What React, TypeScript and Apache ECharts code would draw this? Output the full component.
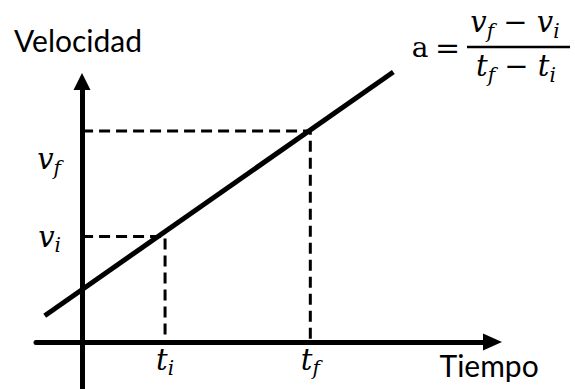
import React, { useEffect, useRef } from 'react';
import * as echarts from 'echarts';

// Conceptual velocity-time data (arbitrary units)
const linePoints: number[][] = [[-0.9, 0.5], [7.5, 5.12]];
const dashedInitial: number[][] = [[0, 2], [2, 2], [2, 0]];
const dashedFinal: number[][] = [[0, 4], [5.5, 4], [5.5, 0]];
const xTickValues = [2, 5.5];
const xTickMain = ['t', 't'];
const xTickSub = ['i', 'f'];
const yTickValues = [2, 4];
const yTickMain = ['v', 'v'];
const yTickSub = ['i', 'f'];
const xRange = [-1.11, 9.89];
const yRange = [-0.89, 4.94];
const xName = 'Tiempo';
const yName = 'Velocidad';

const MATH = 'DejaVu Serif';
const SANS = 'Lato';

const mathRich = (subPad: number) => ({
  m: { fontFamily: MATH, fontStyle: 'italic', fontSize: 29, color: '#000' },
  s: { fontFamily: MATH, fontStyle: 'italic', fontSize: 20, color: '#000', padding: [subPad, 0, 0, 0] },
  o: { fontFamily: MATH, fontSize: 29, color: '#000' },
  M: { fontFamily: MATH, fontStyle: 'italic', fontSize: 29, color: '#000', padding: [56, 0, 0, 0] },
  S: { fontFamily: MATH, fontStyle: 'italic', fontSize: 20, color: '#000', padding: [56 + subPad, 0, 0, 0] },
});

export default function App() {
  const ref = useRef<HTMLDivElement>(null);
  useEffect(() => {
    if (!ref.current) return;
    const chart = echarts.init(ref.current, undefined, { renderer: 'svg' });
    const rich = mathRich(17);
    chart.setOption({
      animation: false,
      backgroundColor: '#fff',
      grid: { left: 36, right: 82.5, top: 81.5, bottom: 0, containLabel: false, outerBoundsMode: 'none' },
      xAxis: {
        type: 'value',
        min: xRange[0],
        max: xRange[1],
        offset: -47,
        splitLine: { show: false },
        axisTick: { show: false },
        axisLine: {
          onZero: false,
          symbol: ['none', 'triangle'],
          symbolSize: [17, 19],
          lineStyle: { color: '#000', width: 5 },
        },
        axisLabel: {
          customValues: xTickValues,
          margin: -1,
          formatter: (v: number) => {
            const i = xTickValues.indexOf(v);
            return i < 0 ? '' : `{m|${xTickMain[i]}}{s|${xTickSub[i]}}`;
          },
          rich,
        },
        name: xName,
        nameLocation: 'end',
        nameGap: -53,
        nameTextStyle: {
          fontFamily: SANS,
          fontSize: 30,
          color: '#000',
          align: 'left',
          verticalAlign: 'top',
          padding: [8, 0, 0, 0],
        },
      },
      yAxis: {
        type: 'value',
        min: yRange[0],
        max: yRange[1],
        offset: -46,
        splitLine: { show: false },
        axisTick: { show: false },
        axisLine: {
          onZero: false,
          symbol: ['none', 'triangle'],
          symbolSize: [17, 17],
          lineStyle: { color: '#000', width: 5 },
        },
        axisLabel: {
          customValues: yTickValues,
          margin: 21,
          formatter: (v: number) => {
            const i = yTickValues.indexOf(v);
            if (i < 0) return '';
            return i === 1
              ? `{M|${yTickMain[i]}}{S|${yTickSub[i]}}`
              : `{m|${yTickMain[i]}}{s|${yTickSub[i]}}`;
          },
          rich,
        },
        name: yName,
        nameLocation: 'end',
        nameGap: 27,
        nameTextStyle: {
          fontFamily: SANS,
          fontSize: 30,
          color: '#000',
          padding: [0, 8, 0, 0],
        },
      },
      series: [
        {
          type: 'line',
          data: dashedInitial,
          symbol: 'none',
          silent: true,
          clip: false,
          lineStyle: { color: '#000', width: 3, type: [11, 6] },
        },
        {
          type: 'line',
          data: dashedFinal,
          symbol: 'none',
          silent: true,
          clip: false,
          lineStyle: { color: '#000', width: 3, type: [11, 6] },
        },
        {
          type: 'line',
          data: linePoints,
          symbol: 'none',
          silent: true,
          clip: false,
          lineStyle: { color: '#000', width: 5 },
        },
      ],
      graphic: [
        {
          type: 'text',
          x: 420,
          y: 47,
          style: { text: 'a', fontFamily: MATH, fontSize: 28, fill: '#000', align: 'center', verticalAlign: 'middle' },
        },
        {
          type: 'text',
          x: 447.5,
          y: 47,
          style: { text: '=', fontFamily: MATH, fontSize: 30, fill: '#000', align: 'center', verticalAlign: 'middle' },
        },
        {
          type: 'line',
          shape: { x1: 467, y1: 47, x2: 570, y2: 47 },
          style: { stroke: '#000', lineWidth: 2.5 },
        },
        {
          type: 'text',
          x: 515,
          y: 22,
          style: {
            text: '{m|v}{s|f}{o| − }{m|v}{s|i}',
            rich,
            align: 'center',
            verticalAlign: 'middle',
          },
        },
        {
          type: 'text',
          x: 516,
          y: 66,
          style: {
            text: '{m|t}{s|f}{o| − }{m|t}{s|i}',
            rich,
            align: 'center',
            verticalAlign: 'middle',
          },
        },
      ],
    });
    return () => chart.dispose();
  }, []);
  return (
    <div
      ref={ref}
      style={{ position: 'fixed', left: 0, top: 0, width: 575, height: 389, background: '#fff' }}
    />
  );
}
